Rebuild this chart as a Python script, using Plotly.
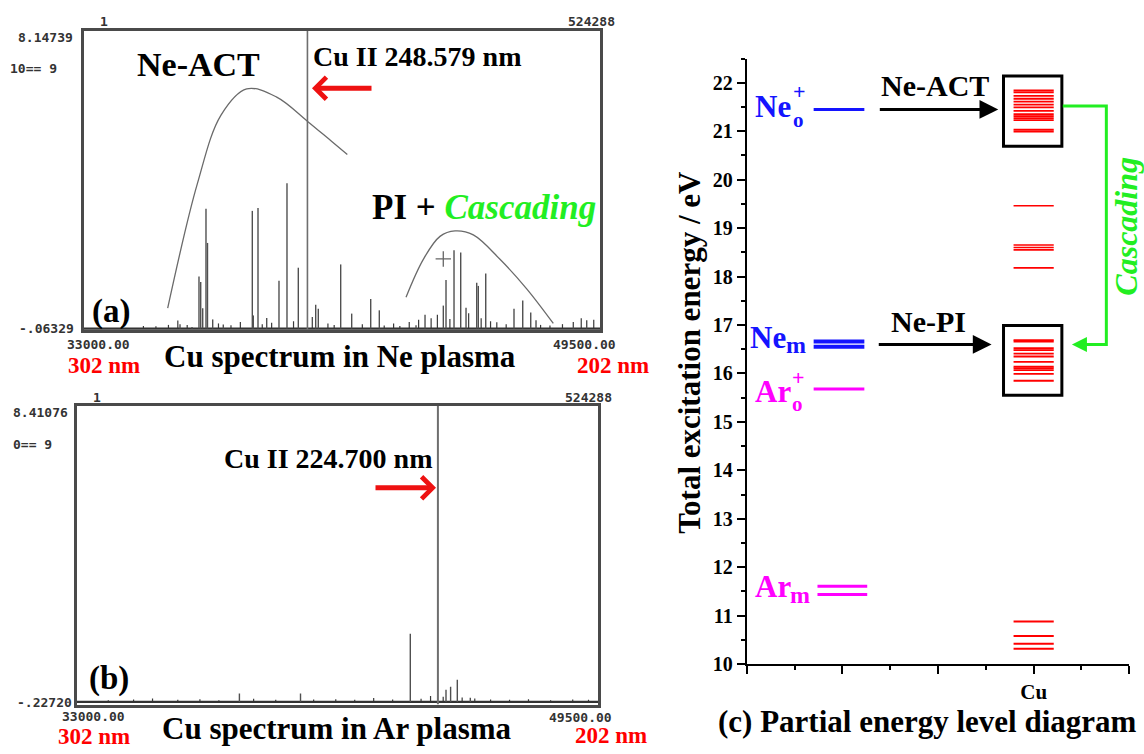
import plotly.graph_objects as go

W, H = 1144, 754
SERIF = "Liberation Serif"
MONO = "DejaVu Sans Mono"

# ---------------- (a) Cu spectrum in Ne plasma ----------------
a_xrange = [33000.0, 49500.0]
a_yrange = [-0.06329, 8.14739]
a_base = -0.02
a_line_pos = [36070, 36454, 36677, 36732, 36796, 36901, 36949, 37115, 37454,
              38382, 38414, 38564, 38842, 39235, 39491, 39853, 40409, 40492,
              41208, 41560, 42168, 42443, 43617, 43905, 44490, 44576, 44832,
              45046, 45216, 45558, 45609, 45846, 46750, 47029, 47285, 47454,
              48647, 49075]
a_line_int = [0.10, 0.02, 1.41, 1.26, 0.54, 3.27, 2.33, 0.23, 0.09,
              3.21, 0.34, 3.29, 0.27, 1.29, 3.97, 1.65, 0.63, 0.52,
              1.74, 0.39, 0.79, 0.48, 0.07, 0.36, 0.61, 1.31, 2.13,
              2.07, 0.55, 1.24, 1.15, 1.49, 0.52, 0.75, 0.42, 0.21,
              0.16, 0.21]
a_noise_pos = [34200, 34900, 35300, 35700, 36000, 36300, 37300, 37700, 38000,
               38700, 39000, 39700, 40300, 40800, 41000, 41900, 42600, 42900,
               43100, 43400, 43700, 44100, 44300, 44700, 45300, 45700, 46000,
               46200, 46500, 47600, 47900, 48300, 48900, 49300]
a_noise_int = [0.03, 0.05, 0.04, 0.08, 0.20, 0.08, 0.12, 0.07, 0.16,
               0.10, 0.14, 0.18, 0.30, 0.12, 0.08, 0.10, 0.06, 0.12,
               0.05, 0.16, 0.22, 0.26, 0.36, 0.24, 0.40, 0.26, 0.18,
               0.15, 0.10, 0.08, 0.06, 0.10, 0.26, 0.22]
a_cu_line = 40145          # Cu II 248.579 nm marker
# hand-drawn guide curves (Ne-ACT and PI + cascading envelopes)
act_curve_x = [35676, 36623, 37381, 38203, 39149, 40160, 40914, 41420]
act_curve_y = [0.54, 3.95, 5.84, 6.56, 6.34, 5.66, 5.12, 4.76]
pi_curve_x = [43297, 43850, 44384, 44864, 45449, 46302, 47156, 48007]
pi_curve_y = [0.84, 1.88, 2.51, 2.66, 2.55, 1.88, 1.07, 0.12]
pi_cross = (44489, 1.89)

# ---------------- (b) Cu spectrum in Ar plasma ----------------
b_xrange = [33000.0, 49500.0]
b_yrange = [-0.22720, 8.41076]
b_base = -0.15
b_line_pos = [38150, 40084, 43559, 44689, 44835, 45047, 45458]
b_line_int = [0.09, 0.09, 1.82, 0.20, 0.29, 0.49, -0.03]
b_noise_pos = [34000, 34800, 35400, 36200, 36900, 37500, 38600, 39300, 40500,
               41200, 41800, 42400, 43000, 43900, 44200, 44600, 45200, 45600,
               46100, 46700, 47300, 48000, 48700, 49200]
b_noise_int = [-0.10, -0.08, -0.05, -0.09, -0.07, -0.10, -0.06, -0.09, -0.08,
               -0.07, -0.09, -0.04, -0.08, -0.06, 0.02, 0.00, -0.02, -0.05,
               -0.08, -0.09, -0.07, -0.10, -0.08, -0.09]
b_cu_line = 44433          # Cu II 224.700 nm marker

# ---------------- (c) partial energy level diagram ----------------
ne_ion = [21.45]
ne_meta = [16.66, 16.55]
ar_ion = [15.68]
ar_meta = [11.61, 11.44]
cu_act = [21.84, 21.80, 21.73, 21.67, 21.61, 21.55, 21.49, 21.42, 21.35,
          21.31, 21.27, 21.23, 21.03, 20.99]
cu_mid = [19.46, 18.65, 18.60, 18.55, 18.18]
cu_pi = [16.69, 16.66, 16.52, 16.48, 16.41, 16.35, 16.24, 16.14, 16.11,
         16.07, 15.99, 15.85]
cu_low = [10.88, 10.58, 10.42, 10.32]
c_xtick_vals = [0, 1, 2, 3, 4]
c_xtick_text = ["", "", "", "Cu", ""]
c_ytick_vals = list(range(10, 23))

gas_span = (0.70, 1.23)
arm_span = (0.74, 1.26)
cu_span = (2.79, 3.21)

BLUE = "#1414ff"
MAGENTA = "#ff00ff"
RED = "#ff0000"
GREEN = "#22ee22"


def sticks(pos, inten, base):
    xs, ys = [], []
    for p, h in zip(pos, inten):
        xs += [p, p, None]
        ys += [base, h, None]
    return xs, ys


def hlines(levels, span):
    xs, ys = [], []
    for e in levels:
        xs += [span[0], span[1], None]
        ys += [e, e, None]
    return xs, ys


def line_trace(xs, ys, color, width, xa, ya, shape="linear"):
    return go.Scatter(x=xs, y=ys, mode="lines", xaxis=xa, yaxis=ya,
                      line=dict(color=color, width=width, shape=shape),
                      hoverinfo="skip", showlegend=False)


fig = go.Figure()

# spectrum (a)
xs, ys = sticks(a_noise_pos, a_noise_int, a_base)
fig.add_trace(line_trace(xs, ys, "#3a3a3a", 1.2, "x", "y"))
fig.add_trace(line_trace(a_xrange, [a_base, a_base], "#333333", 2.2, "x", "y"))
xs, ys = sticks(a_line_pos, a_line_int, a_base)
fig.add_trace(line_trace(xs, ys, "#505050", 1.4, "x", "y"))
fig.add_trace(line_trace([a_cu_line, a_cu_line], a_yrange, "#6e6e6e", 1.6, "x", "y"))
fig.add_trace(line_trace(act_curve_x, act_curve_y, "#6a6a6a", 1.3, "x", "y", "spline"))
fig.add_trace(line_trace(pi_curve_x, pi_curve_y, "#6a6a6a", 1.3, "x", "y", "spline"))
fig.add_trace(go.Scatter(x=[pi_cross[0]], y=[pi_cross[1]], mode="markers", xaxis="x", yaxis="y",
                         marker=dict(symbol="cross-thin", size=11,
                                     line=dict(color="#666666", width=1.3)),
                         hoverinfo="skip", showlegend=False))

# spectrum (b)
xs, ys = sticks(b_noise_pos, b_noise_int, b_base)
fig.add_trace(line_trace(xs, ys, "#3a3a3a", 1.2, "x2", "y2"))
fig.add_trace(line_trace(b_xrange, [b_base, b_base], "#333333", 2.4, "x2", "y2"))
xs, ys = sticks(b_line_pos, b_line_int, b_base)
fig.add_trace(line_trace(xs, ys, "#505050", 1.4, "x2", "y2"))
fig.add_trace(line_trace([b_cu_line, b_cu_line], b_yrange, "#6e6e6e", 2.0, "x2", "y2"))

# energy levels (c)
for levels, span, color, width in [
        (ne_ion, gas_span, BLUE, 3), (ne_meta, gas_span, BLUE, 4),
        (ar_ion, gas_span, MAGENTA, 3), (ar_meta, arm_span, MAGENTA, 3),
        (cu_act, cu_span, RED, 1.8), (cu_mid, cu_span, RED, 1.6),
        (cu_pi, cu_span, RED, 1.8), (cu_low, cu_span, RED, 2)]:
    xs, ys = hlines(levels, span)
    fig.add_trace(line_trace(xs, ys, color, width, "x3", "y3"))

# boxes around the populated Cu II groups
pad_e = 0.3
box_x = (2.685, 3.295)
shapes = []
for grp in (cu_act, cu_pi):
    shapes.append(dict(type="rect", xref="x3", yref="y3",
                       x0=box_x[0], x1=box_x[1],
                       y0=min(grp) - pad_e, y1=max(grp) + pad_e,
                       line=dict(color="black", width=3)))

# cascading connector between the two boxes
casc_top = 21.52
casc_bot = ne_meta[0] - 0.06
casc_x = 3.76
shapes.append(dict(type="path", xref="x3", yref="y3",
                   path=f"M {box_x[1] + 0.01},{casc_top} L {casc_x},{casc_top} "
                        f"L {casc_x},{casc_bot} L {box_x[1] + 0.2},{casc_bot}",
                   line=dict(color=GREEN, width=3)))


def P(x, y):
    return x / W, 1 - y / H


annotations = []


def text(t, x, y, size, color="black", family=SERIF, bold=True, xanchor="center",
         angle=0, italic=False):
    px, py = P(x, y)
    annotations.append(dict(text=t, x=px, y=py, xref="paper", yref="paper",
                            xanchor=xanchor, yanchor="middle", showarrow=False,
                            textangle=angle,
                            font=dict(family=family, size=size, color=color,
                                      weight="bold" if bold else "normal",
                                      style="italic" if italic else "normal")))


def mono(t, x, y, xanchor="center"):
    text(t, x, y, 13, color="#333333", family=MONO, bold=True, xanchor=xanchor)


# panel (a) texts
mono("1", 104, 22)
mono("524288", 591, 22)
mono("8.14739", 45, 38)
mono("10== 9", 33, 70)
mono("-.06329", 46, 333)
mono("33000.00", 98, 350)
mono("49500.00", 584, 350)
text("Ne-ACT", 198, 65, 34)
text("Cu II 248.579 nm", 311, 57, 28, xanchor="left")
text("PI + <span style='color:%s'><i>Cascading</i></span>" % GREEN, 370, 211, 35,
     xanchor="left")
text("(a)", 111, 316, 33)
text("Cu spectrum in Ne plasma", 340, 362, 31)
text("302 nm", 104, 371, 23, color=RED)
text("202 nm", 575, 371, 23, color=RED, xanchor="left")

# panel (b) texts
mono("1", 97, 403)
mono("524288", 588, 403)
mono("8.41076", 40, 419)
mono("0== 9", 32, 451)
mono("-.22720", 44, 713)
mono("33000.00", 93, 727)
mono("49500.00", 580, 728)
text("Cu II 224.700 nm", 222, 465, 28, xanchor="left")
text("(b)", 109, 689, 33)
text("Cu spectrum in Ar plasma", 337, 739, 31)
text("302 nm", 94, 747, 23, color=RED)
text("202 nm", 573, 746, 23, color=RED, xanchor="left")

# red pointer arrows
for tip_x, tip_y, dx in [(312, 89.5, 61), (436, 495, -62)]:
    px, py = P(tip_x, tip_y)
    annotations.append(dict(x=px, y=py, xref="paper", yref="paper", ax=dx, ay=0,
                            showarrow=True, arrowhead=4, arrowsize=0.85,
                            arrowwidth=5, arrowcolor="#ee1111", text=""))

# panel (c) texts
text("Total excitation energy / eV", 690, 358, 31, angle=-90)
text("(c) Partial energy level diagram", 927, 732, 31)
text("Ne-ACT", 935, 87, 30)
text("Ne-PI", 928, 326, 30)
text("Cascading", 1126, 230, 32, color=GREEN, angle=-90, italic=True)
text("Ne", 773, 108, 31, color=BLUE)
text("+", 799, 93, 22, color=BLUE)
text("o", 798, 122, 21, color=BLUE)
text("Ne", 768, 342, 31, color=BLUE)
text("m", 796, 350, 24, color=BLUE)
text("Ar", 773, 397, 31, color=MAGENTA)
text("+", 798, 383, 22, color=MAGENTA)
text("o", 797, 410, 21, color=MAGENTA)
text("Ar", 773, 595, 31, color=MAGENTA)
text("m", 800, 604, 24, color=MAGENTA)

# excitation arrows into the Cu II boxes
for e, x_from, x_to in [(ne_ion[0], 1.376, 2.63), (ne_meta[0] - 0.06, 1.365, 2.56)]:
    annotations.append(dict(x=x_to, y=e, ax=x_from, ay=e, xref="x3", yref="y3",
                            axref="x3", ayref="y3", showarrow=True, arrowhead=2,
                            arrowsize=1.25, arrowwidth=3, arrowcolor="black", text=""))
annotations.append(dict(x=box_x[1] + 0.105, y=casc_bot, ax=box_x[1] + 0.3, ay=casc_bot,
                        xref="x3", yref="y3", axref="x3", ayref="y3", showarrow=True,
                        arrowhead=2, arrowsize=1.0, arrowwidth=3, arrowcolor=GREEN,
                        text=""))

frame = dict(showline=True, mirror=True, linecolor="#4a4a4a", linewidth=3,
             showgrid=False, zeroline=False, showticklabels=False, ticks="")

fig.update_layout(
    width=W, height=H, autosize=False,
    margin=dict(l=0, r=0, t=0, b=0),
    paper_bgcolor="white", plot_bgcolor="white",
    showlegend=False,
    xaxis=dict(domain=[84 / W, 600 / W], range=a_xrange, anchor="y", **frame),
    yaxis=dict(domain=[1 - 335 / H, 1 - 31.5 / H], range=a_yrange, anchor="x", **frame),
    xaxis2=dict(domain=[76.7 / W, 598 / W], range=b_xrange, anchor="y2", **frame),
    yaxis2=dict(domain=[1 - 715 / H, 1 - 412 / H], range=b_yrange, anchor="x2", **frame),
    xaxis3=dict(domain=[746.7 / W, 1129.3 / W], range=[0, 4], anchor="y3",
                showline=True, linecolor="black", linewidth=2, mirror=False,
                showgrid=False, zeroline=False,
                tickmode="array", tickvals=c_xtick_vals, ticktext=c_xtick_text,
                ticks="outside", ticklen=8, tickwidth=2, tickcolor="black",
                tickfont=dict(family=SERIF, size=21, color="black", weight="bold"),
                minor=dict(dtick=0.5, tick0=0, ticks="outside", ticklen=4,
                           tickwidth=2, tickcolor="black")),
    yaxis3=dict(domain=[1 - 674 / H, 1 - 59.4 / H], range=[10, 22.5], anchor="x3",
                showline=True, linecolor="black", linewidth=2, mirror=False,
                showgrid=False, zeroline=False,
                tickmode="array", tickvals=c_ytick_vals,
                ticks="outside", ticklen=8, tickwidth=2, tickcolor="black",
                tickfont=dict(family=SERIF, size=20, color="black", weight="bold"),
                minor=dict(dtick=0.5, tick0=10, ticks="outside", ticklen=4,
                           tickwidth=2, tickcolor="black")),
    shapes=shapes,
    annotations=annotations,
)

fig.write_html("out.html")
